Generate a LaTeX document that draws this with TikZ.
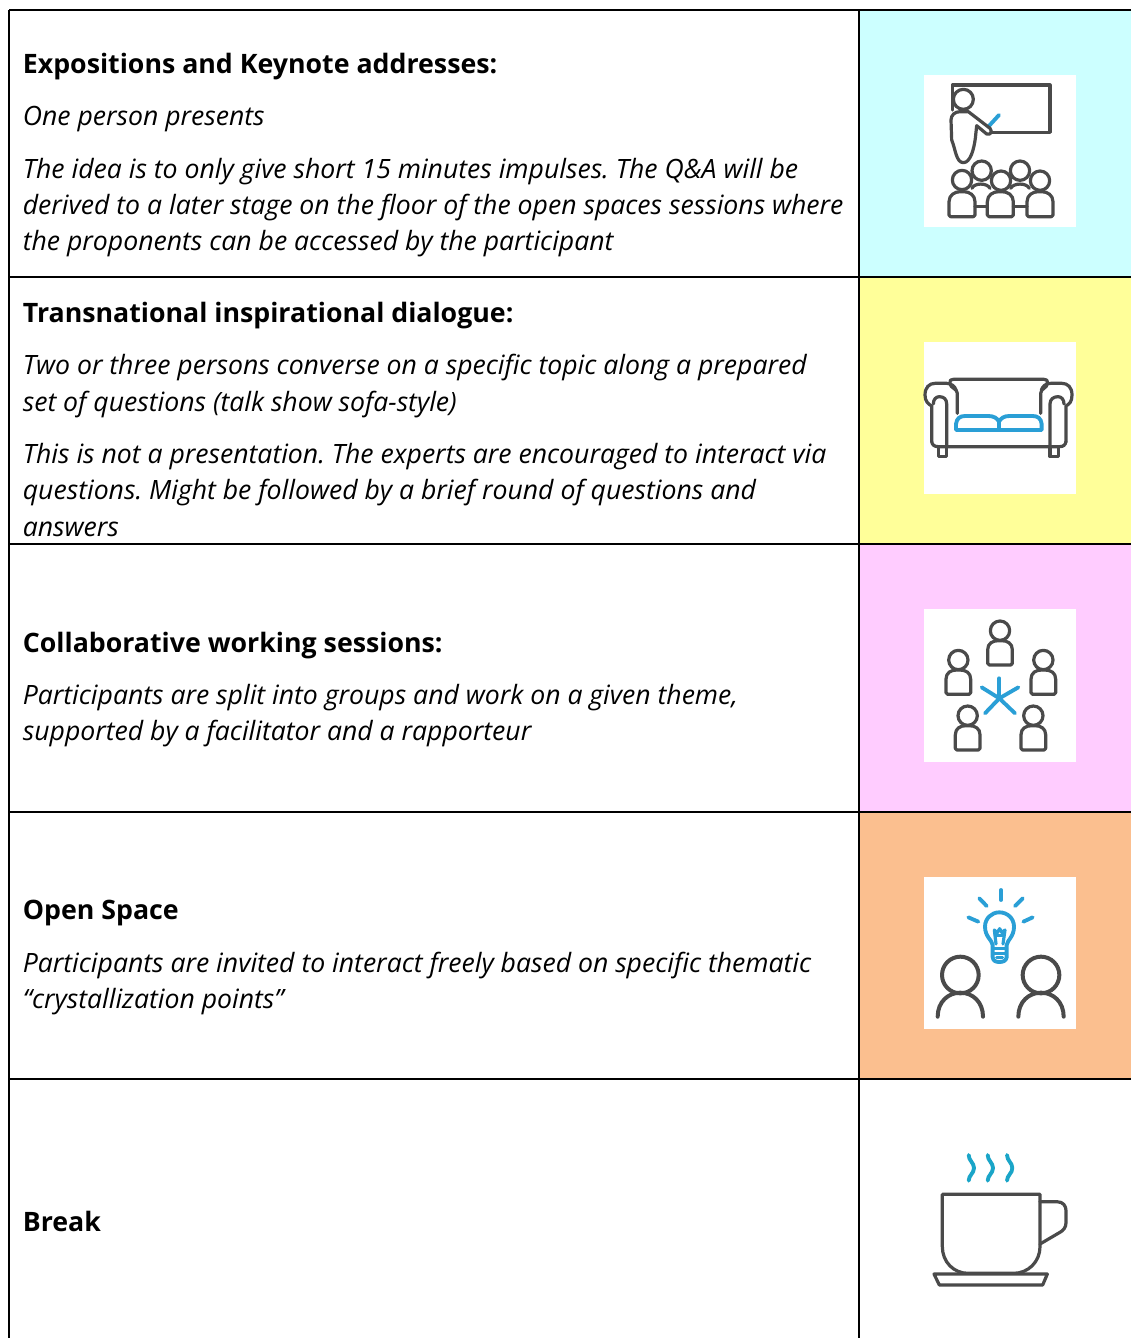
\documentclass[tikz,border=0pt]{standalone}
\usepackage{fontspec}
\setmainfont{Open Sans}
\frenchspacing
\definecolor{cellcyan}{HTML}{CCFFFF}
\definecolor{cellyellow}{HTML}{FFFF99}
\definecolor{cellpink}{HTML}{FFCCFF}
\definecolor{cellorange}{HTML}{FBBF8F}
\definecolor{icongrey}{HTML}{4A4A4A}
\definecolor{iconblue}{HTML}{2A9FD6}
\definecolor{steamblue}{HTML}{1AA5C8}
\newcommand{\iconperson}[2]{%
  \draw[ic] (#1,#2) circle (29);
  \draw[ic,rounded corners=1.2pt] (#1-37,#2+103) -- (#1-37,#2+62) .. controls (#1-37,#2+38) and (#1-22,#2+30) .. (#1,#2+30) .. controls (#1+22,#2+30) and (#1+37,#2+38) .. (#1+37,#2+62) -- (#1+37,#2+103) -- cycle;
}
\newcommand{\iconaudience}[2]{%
  \draw[ic,rounded corners=1.2pt] (#1-39,#2+45) -- (#1-39,#2+5) .. controls (#1-39,#2-20) and (#1-22,#2-30) .. (#1,#2-30) .. controls (#1+22,#2-30) and (#1+39,#2-20) .. (#1+39,#2+5) -- (#1+39,#2+45) -- cycle;
}
\tikzset{
  grid/.style={draw=black,line width=0.9pt},
  ttl/.style={anchor=base west,inner sep=0pt,font=\fontsize{20.05}{24}\selectfont\bfseries},
  txt/.style={anchor=base west,inner sep=0pt,font=\fontsize{19.95}{24}\selectfont\itshape},
  ic/.style={draw=icongrey,line width=2.4pt,line cap=round,line join=round},
  icb/.style={draw=iconblue,line width=2.9pt,line cap=round,line join=round},
  iconbg/.style={fill=white,draw=none},
  iconframe/.style={x=0.25pt,y=-0.25pt}
}
\begin{document}
\begin{tikzpicture}[x=0.75pt,y=-0.75pt]
\useasboundingbox (0,0) rectangle (1131,1338);
% cell fills
\fill[cellcyan] (859,10) rectangle (1131,277);
\fill[cellyellow] (859,277) rectangle (1131,544);
\fill[cellpink] (859,544) rectangle (1131,812);
\fill[cellorange] (859,812) rectangle (1131,1079);
\fill[iconbg] (924,75) rectangle (1076,227);
\fill[iconbg] (924,342) rectangle (1076,494);
\fill[iconbg] (924,609) rectangle (1076,762);
\fill[iconbg] (924,877) rectangle (1076,1029);
% grid
\draw[grid] (9,10) -- (1131,10);
\draw[grid] (9,277) -- (1131,277);
\draw[grid] (9,544) -- (1131,544);
\draw[grid] (9,812) -- (1131,812);
\draw[grid] (9,1079) -- (1131,1079);
\draw[grid] (9,10) -- (9,1338);
\draw[grid] (859,10) -- (859,1338);
% texts
\node[ttl] (t1) at (22.6,73.6) {Expositions and Keynote addresses:};
\node[txt] (t1a) at (22.6,125) {One person presents};
\node[txt] (t1b) at (22.6,178) {The idea is to only give short 15 minutes impulses. The Q\&A will be};
\node[txt] (t1c) at (22.6,214) {derived to a later stage on the floor of the open spaces sessions where};
\node[txt] (t1d) at (22.6,250) {the proponents can be accessed by the participant};
\node[ttl] (t2) at (22.6,322) {Transnational inspirational dialogue:};
\node[txt] (t2a) at (22.6,374) {Two or three persons converse on a specific topic along a prepared};
\node[txt] (t2b) at (22.6,411) {set of questions (talk show sofa-style)};
\node[txt] (t2c) at (22.6,463) {This is not a presentation. The experts are encouraged to interact via};
\node[txt] (t2d) at (22.6,499) {questions. Might be followed by a brief round of questions and};
\node[txt] (t2e) at (22.6,536) {answers};
\node[ttl] (t3) at (22.6,652) {Collaborative working sessions:};
\node[txt] (t3a) at (22.6,704) {Participants are split into groups and work on a given theme,};
\node[txt] (t3b) at (22.6,740) {supported by a facilitator and a rapporteur};
\node[ttl] (t4) at (22.6,919) {Open Space};
\node[txt] (t4a) at (22.6,972) {Participants are invited to interact freely based on specific thematic};
\node[txt] (t4b) at (22.6,1008) {“crystallization points”};
\node[ttl] (t5) at (22.6,1231) {Break};
% icon 1: presenter and audience
\begin{scope}[shift={(900,60)},iconframe]
  \draw[ic] (157,150) -- (157,75) -- (450,75) -- (450,217) -- (272,217);
  \draw[icb] (265,200) -- (297,165);
  \draw[ic,fill=white] (190,118) circle (30);
  \draw[ic] (205,155) -- (270,205) .. controls (278,215) and (272,226) .. (260,222) -- (230,197) -- (226,235) .. controls (222,265) and (212,308) .. (190,308) .. controls (168,308) and (166,265) .. (155,240) -- (153,180) .. controls (153,165) and (165,155) .. (180,155) -- cycle;
  \draw[ic] (245,332) circle (29);
  \draw[ic] (360,332) circle (29);
  \draw[ic] (186,360) circle (29);
  \draw[ic] (303,362) circle (29);
  \draw[ic] (420,362) circle (29);
  \iconaudience{186}{425}
  \iconaudience{301}{425}
  \iconaudience{420}{425}
  \draw[ic] (225,440) -- (262,440);
  \draw[ic] (340,440) -- (381,440);
  \draw[ic] (216,385) .. controls (222,368) and (262,368) .. (270,385);
  \draw[ic] (332,385) .. controls (340,368) and (380,368) .. (388,385);
\end{scope}
% icon 2: sofa
\begin{scope}[shift={(900,330)},iconframe]
  \draw[ic] (172,250) -- (172,190) .. controls (172,175) and (150,175) .. (150,160) .. controls (150,150) and (152,148) .. (160,148) -- (432,148) .. controls (440,148) and (442,150) .. (442,160) .. controls (442,175) and (422,175) .. (422,190) -- (422,250);
  \draw[ic] (95,335) -- (95,228) .. controls (85,222) and (75,215) .. (75,195) .. controls (75,172) and (88,160) .. (105,160) -- (140,160) .. controls (155,160) and (165,170) .. (168,180);
  \draw[ic] (498,335) -- (498,228) .. controls (508,222) and (516,215) .. (516,195) .. controls (516,172) and (503,160) .. (486,160) -- (452,160) .. controls (437,160) and (427,170) .. (424,180);
  \draw[ic] (100,222) .. controls (100,208) and (108,200) .. (118,200) .. controls (132,200) and (140,208) .. (140,222) -- (140,350);
  \draw[ic] (492,222) .. controls (492,208) and (484,200) .. (474,200) .. controls (460,200) and (450,208) .. (450,222) -- (450,350);
  \draw[ic] (95,335) .. controls (97,345) and (103,350) .. (115,350) -- (478,350) .. controls (490,350) and (496,345) .. (498,335);
  \draw[ic] (115,350) -- (115,380) -- (140,380) -- (140,350);
  \draw[ic] (450,350) -- (450,380) -- (475,380) -- (475,350);
  \draw[icb] (168,300) -- (168,282) .. controls (170,265) and (180,258) .. (195,258) -- (265,258) .. controls (282,258) and (292,265) .. (297,275) .. controls (302,265) and (312,258) .. (328,258) -- (398,258) .. controls (413,258) and (423,265) .. (425,282) -- (425,300) -- cycle;
  \draw[icb] (297,275) -- (297,300);
\end{scope}
% icon 3: group around star
\begin{scope}[shift={(900,600)},iconframe]
  \iconperson{300}{92}
  \iconperson{175}{180}
  \iconperson{430}{180}
  \iconperson{203}{347}
  \iconperson{400}{347}
  \draw[icb] (298,295) -- (298,235);
  \draw[icb] (298,295) -- (355,262);
  \draw[icb] (298,295) -- (345,340);
  \draw[icb] (298,295) -- (255,340);
  \draw[icb] (298,295) -- (245,262);
\end{scope}
% icon 4: two persons with bulb
\begin{scope}[shift={(900,870)},iconframe]
  \draw[ic,line width=3pt] (181,315) circle (55);
  \draw[ic,line width=3pt] (423,315) circle (55);
  \draw[ic,line width=3pt] (113,440) .. controls (113,395) and (145,368) .. (181,368) .. controls (217,368) and (249,395) .. (249,440);
  \draw[ic,line width=3pt] (355,440) .. controls (355,395) and (387,368) .. (423,368) .. controls (459,368) and (491,395) .. (491,440);
  \draw[icb] (303,60) -- (303,90);
  \draw[icb] (238,85) -- (260,108);
  \draw[icb] (368,85) -- (345,108);
  \draw[icb] (205,142) -- (235,155);
  \draw[icb] (398,142) -- (370,155);
  \draw[icb] (278,225) .. controls (276,210) and (255,200) .. (255,170) .. controls (255,145) and (275,127) .. (298,127) .. controls (322,127) and (342,145) .. (342,170) .. controls (342,200) and (322,210) .. (320,225) -- (320,262) .. controls (318,272) and (310,276) .. (298,276) .. controls (286,276) and (280,272) .. (278,262) -- cycle;
  \draw[icb,line width=2.2pt] (278,236) -- (320,236);
  \draw[icb,line width=2.2pt] (282,250) -- (316,250);
  \draw[icb,line width=2.2pt] (290,263) -- (308,263);
  \draw[icb,line width=2.4pt] (288,222) -- (283,180) -- (292,188) -- (299,176) -- (306,188) -- (315,180) -- (309,222);
  \draw[icb,line width=2.4pt] (286,196) -- (312,196);
\end{scope}
% icon 5: cup
\begin{scope}[shift={(900,1140)},iconframe]
  \draw[ic] (127,163) -- (420,163) -- (420,320) .. controls (420,365) and (385,400) .. (340,400) -- (205,400) .. controls (160,400) and (127,365) .. (127,320) -- cycle;
  \draw[ic] (420,185) -- (470,185) .. controls (490,185) and (498,198) .. (498,212) -- (498,248) .. controls (498,262) and (490,272) .. (478,278) -- (420,312);
  \draw[ic] (102,402) -- (442,402) -- (428,435) -- (118,435) -- cycle;
  \draw[icb,draw=steamblue] (206,45) .. controls (206,62) and (222,68) .. (222,84) .. controls (222,100) and (206,106) .. (206,122);
  \draw[icb,draw=steamblue] (263,45) .. controls (263,62) and (279,68) .. (279,84) .. controls (279,100) and (263,106) .. (263,122);
  \draw[icb,draw=steamblue] (321,45) .. controls (321,62) and (337,68) .. (337,84) .. controls (337,100) and (321,106) .. (321,122);
\end{scope}
\end{tikzpicture}
\end{document}
